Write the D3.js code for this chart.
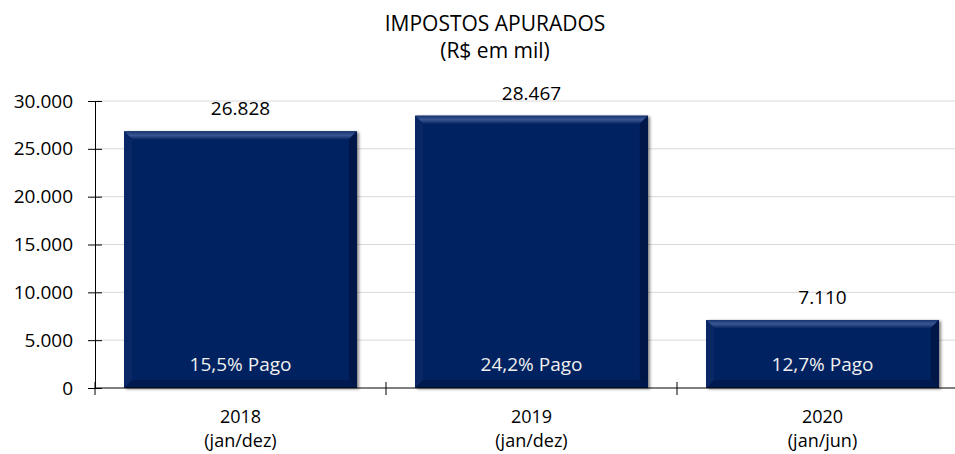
<!DOCTYPE html>
<html>
<head>
<meta charset="utf-8">
<script src="https://cdn.jsdelivr.net/npm/d3@7"></script>
<style>
    body { margin: 0; background: #fff; }
    text { font-family: "Open Sans", sans-serif; }
</style>
</head>
<body>
<svg id="chart"></svg>
<script>
const years = ["2018", "2019", "2020"];
const periods = ["(jan/dez)", "(jan/dez)", "(jan/jun)"];
const values = [26828, 28467, 7110];
const valueLabels = ["26.828", "28.467", "7.110"];
const paidLabels = ["15,5% Pago", "24,2% Pago", "12,7% Pago"];
const yTicks = [0, 5000, 10000, 15000, 20000, 25000, 30000];

const totalWidth = 955,
    totalHeight = 454;
const margin = { top: 101, right: -13, bottom: 66, left: 95 },
    width = totalWidth - margin.left - margin.right,
    height = totalHeight - margin.top - margin.bottom;

const svg = d3.select("#chart")
    .attr("width", totalWidth)
    .attr("height", totalHeight);

const g = svg.append("g")
    .attr("transform", "translate(" + margin.left + "," + margin.top + ")");

const x = d3.scaleBand()
    .domain(years)
    .range([0, width])
    .paddingInner(0.2)
    .paddingOuter(0.1);
const y = d3.scaleLinear().domain([0, 30000]).range([height, 0]);
const fmt = d => d3.format(",")(d).replace(/,/g, ".");

// title (two separate lines)
svg.append("text")
    .attr("x", 495)
    .attr("y", 31)
    .attr("text-anchor", "middle")
    .style("font-size", "21px")
    .text("IMPOSTOS APURADOS");
svg.append("text")
    .attr("x", 495)
    .attr("y", 58)
    .attr("text-anchor", "middle")
    .style("font-size", "21px")
    .text("(R$ em mil)");

// grid lines
g.append("g")
    .selectAll("line")
    .data(yTicks.slice(1))
    .enter()
    .append("line")
    .attr("x1", 0)
    .attr("x2", width)
    .attr("y1", d => y(d))
    .attr("y2", d => y(d))
    .attr("stroke", "#d9d9d9")
    .attr("stroke-width", 1);

// bars with a bevel look
const defs = svg.append("defs");
const shadow = defs.append("filter").attr("id", "shadow")
    .attr("x", "-5%").attr("y", "-5%").attr("width", "115%").attr("height", "115%");
shadow.append("feDropShadow")
    .attr("dx", 2).attr("dy", 1).attr("stdDeviation", 1.5)
    .attr("flood-color", "#000").attr("flood-opacity", 0.5);

const topGrad = defs.append("linearGradient").attr("id", "topbev")
    .attr("x1", 0).attr("y1", 0).attr("x2", 0).attr("y2", 1);
topGrad.append("stop").attr("offset", "0%").attr("stop-color", "#16346e");
topGrad.append("stop").attr("offset", "50%").attr("stop-color", "#3a5794");
topGrad.append("stop").attr("offset", "100%").attr("stop-color", "#0a2764");

const bev = 8;
const bar = g.selectAll(".bar")
    .data(values)
    .enter()
    .append("g")
    .attr("class", "bar")
    .attr("transform", (d, i) => "translate(" + x(years[i]) + "," + y(d) + ")");

bar.append("rect")
    .attr("width", x.bandwidth())
    .attr("height", d => height - y(d))
    .attr("fill", "#002060")
    .attr("filter", "url(#shadow)");

// top bevel
bar.append("path")
    .attr("d", d => {
        const w = x.bandwidth();
        return "M0,0 L" + w + ",0 L" + (w - bev) + "," + bev + " L" + bev + "," + bev + "Z";
    })
    .attr("fill", "url(#topbev)");
// left bevel
bar.append("path")
    .attr("d", d => {
        const h = height - y(d);
        return "M0,0 L" + bev + "," + bev + " L" + bev + "," + (h - bev) + " L0," + h + "Z";
    })
    .attr("fill", "#0a2765");
// right bevel
bar.append("path")
    .attr("d", d => {
        const w = x.bandwidth(), h = height - y(d);
        return "M" + w + ",0 L" + w + "," + h + " L" + (w - bev) + "," + (h - bev) + " L" + (w - bev) + "," + bev + "Z";
    })
    .attr("fill", "#001748");
// bottom bevel
bar.append("path")
    .attr("d", d => {
        const w = x.bandwidth(), h = height - y(d);
        return "M0," + h + " L" + bev + "," + (h - bev) + " L" + (w - bev) + "," + (h - bev) + " L" + w + "," + h + "Z";
    })
    .attr("fill", "#001a50");

// value labels above bars
g.selectAll(".value-label")
    .data(values)
    .enter()
    .append("text")
    .attr("class", "value-label")
    .attr("x", (d, i) => x(years[i]) + x.bandwidth() / 2)
    .attr("y", d => y(d) - 16)
    .attr("text-anchor", "middle")
    .style("font-size", "19px")
    .text((d, i) => valueLabels[i]);

// paid labels inside bars
g.selectAll(".paid-label")
    .data(paidLabels)
    .enter()
    .append("text")
    .attr("class", "paid-label")
    .attr("x", (d, i) => x(years[i]) + x.bandwidth() / 2)
    .attr("y", height - 17)
    .attr("text-anchor", "middle")
    .attr("fill", "#f0f0f0")
    .style("font-size", "19px")
    .text(d => d);

// y axis
const yAxis = g.append("g")
    .call(d3.axisLeft(y).tickValues(yTicks).tickSizeInner(6).tickSizeOuter(0).tickFormat(fmt));
yAxis.select(".domain").attr("stroke", "#000");
yAxis.selectAll(".tick line").attr("x1", 7).attr("x2", -7).attr("stroke", "#000");
yAxis.selectAll(".tick text")
    .attr("x", -22)
    .style("font-size", "19px")
    .style("font-family", "'Open Sans', sans-serif")
    .attr("fill", "#000");

// x axis
const xAxis = g.append("g")
    .attr("transform", "translate(0," + height + ")");
xAxis.append("line")
    .attr("x1", 0).attr("x2", width)
    .attr("stroke", "#000");
xAxis.selectAll(".xtick")
    .data(years)
    .enter()
    .append("line")
    .attr("class", "xtick")
    .attr("x1", (d, i) => i === 0 ? 0 : x(d) - x.step() * x.paddingInner() / 2)
    .attr("x2", (d, i) => i === 0 ? 0 : x(d) - x.step() * x.paddingInner() / 2)
    .attr("y1", -6)
    .attr("y2", 7)
    .attr("stroke", "#000");

// category labels, year and period as separate texts
xAxis.selectAll(".xlabel")
    .data(years)
    .enter()
    .append("text")
    .attr("class", "xlabel")
    .attr("x", d => x(d) + x.bandwidth() / 2)
    .attr("y", 35)
    .attr("text-anchor", "middle")
    .style("font-size", "18px")
    .text(d => d);
xAxis.selectAll(".xperiod")
    .data(periods)
    .enter()
    .append("text")
    .attr("class", "xperiod")
    .attr("x", (d, i) => x(years[i]) + x.bandwidth() / 2)
    .attr("y", 59)
    .attr("text-anchor", "middle")
    .style("font-size", "18px")
    .text(d => d);
</script>
</body>
</html>
